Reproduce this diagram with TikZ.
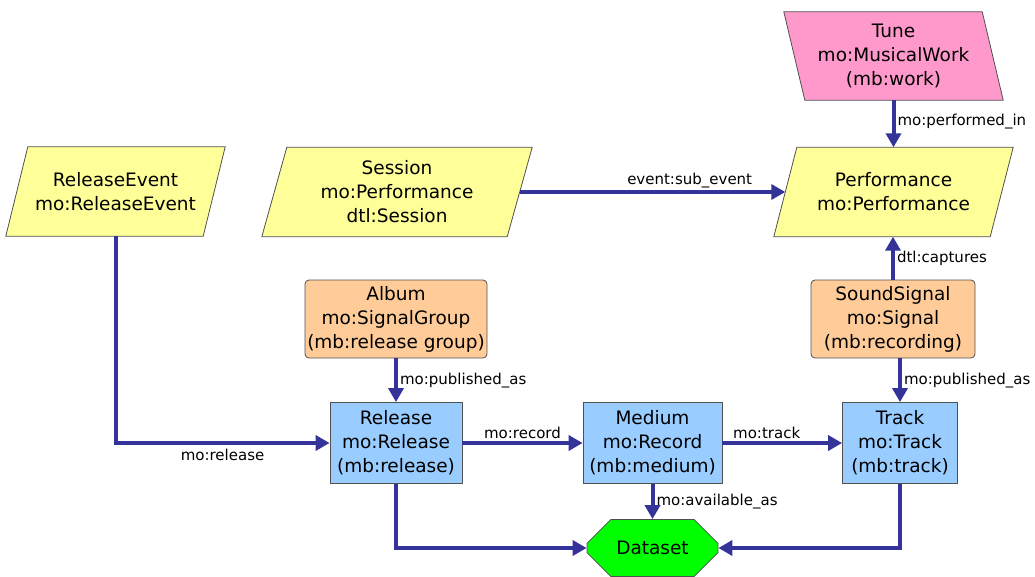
\documentclass[tikz,border=0pt]{standalone}
\usepackage{fontspec}
\setmainfont{DejaVu Sans}
\usetikzlibrary{arrows.meta,shapes.misc,backgrounds}
\definecolor{arrowc}{RGB}{51,51,153}
\definecolor{yel}{RGB}{255,255,153}
\definecolor{pnk}{RGB}{255,153,204}
\definecolor{org}{RGB}{255,204,153}
\definecolor{blu}{RGB}{153,204,255}
\definecolor{grn}{RGB}{0,255,0}
\definecolor{edgec}{RGB}{80,80,80}
\tikzset{
  boxbase/.style={draw=edgec, line width=0.8pt, align=center, inner sep=0pt,
    font=\fontsize{18.5}{24}\selectfont},
  para/.style={align=center, inner sep=0pt, rectangle, minimum height=89,
    font=\fontsize{18.5}{24}\selectfont},
  pgramline/.style={draw=edgec, line width=0.8pt},
  orgbox/.style={boxbase, rectangle, rounded corners=4pt, fill=org, minimum height=78},
  blubox/.style={boxbase, rectangle, fill=blu, minimum height=81},
  dsbox/.style={boxbase, chamfered rectangle, chamfered rectangle xsep=17pt,
    chamfered rectangle ysep=17pt, fill=grn, minimum width=131, minimum height=57},
  conn/.style={draw=arrowc, line width=4pt, -{Triangle[length=14pt,width=15pt]}},
  lbl/.style={font=\fontsize{15}{18}\selectfont, inner sep=2pt, text=black}
}
\newcommand\pgram[3]{%
  \draw[pgramline, fill=#3] ([xshift=#2]#1.north west) -- ([xshift=#2]#1.north east)
    -- ([xshift=-#2]#1.south east) -- ([xshift=-#2]#1.south west) -- cycle;}
\begin{document}
\begin{tikzpicture}[x=1pt,y=-1pt]
\useasboundingbox (0,0) rectangle (1035,577);
% nodes
\node[para, minimum width=198, minimum height=88] (tune) at (893.5,56) {Tune\\mo:MusicalWork\\(mb:work)};
\node[para, minimum width=197] (rev) at (115.5,191.5) {ReleaseEvent\\mo:ReleaseEvent};
\node[para, minimum width=245] (ses) at (397,192) {Session\\mo:Performance\\dtl:Session};
\node[para, minimum width=216] (perf) at (893.5,192) {Performance\\mo:Performance};
\node[orgbox, minimum width=182] (alb) at (396,319) {Album\\mo:SignalGroup\\(mb:release group)};
\node[orgbox, minimum width=164] (sig) at (893,319) {SoundSignal\\mo:Signal\\(mb:recording)};
\node[blubox, minimum width=132] (rel) at (396,443) {Release\\mo:Release\\(mb:release)};
\node[blubox, minimum width=139] (med) at (652.5,443) {Medium\\mo:Record\\(mb:medium)};
\node[blubox, minimum width=115] (trk) at (900,443) {Track\\mo:Track\\(mb:track)};
\node[dsbox] (ds) at (652.5,548) {Dataset};
\begin{scope}[on background layer]
  \pgram{tune}{-10.5}{pnk}
  \pgram{rev}{11}{yel}
  \pgram{ses}{12.5}{yel}
  \pgram{perf}{11.5}{yel}
\end{scope}
% connectors
\draw[conn] (tune.south) -- node[lbl, right, pos=0.45] {mo:performed\_in} (perf.north);
\draw[conn] (ses.east) -- node[lbl, above, pos=0.64] {event:sub\_event} (perf.west);
\draw[conn] (sig.north) -- node[lbl, right] {dtl:captures} (sig.north |- perf.south);
\draw[conn] (rev.south) |- node[lbl, below, pos=0.75, yshift=-2pt] {mo:release} (rel.west);
\draw[conn] (alb.south) -- node[lbl, right] {mo:published\_as} (rel.north);
\draw[conn] (trk.north |- sig.south) -- node[lbl, right] {mo:published\_as} (trk.north);
\draw[conn] (rel.east) -- node[lbl, above] {mo:record} (med.west);
\draw[conn] (med.east) -- node[lbl, above, pos=0.37] {mo:track} (trk.west);
\draw[conn] (med.south) -- node[lbl, right] {mo:available\_as} (ds.north);
\draw[conn] (rel.south) |- (ds.west);
\draw[conn] (trk.south) |- (ds.east);
\end{tikzpicture}
\end{document}
